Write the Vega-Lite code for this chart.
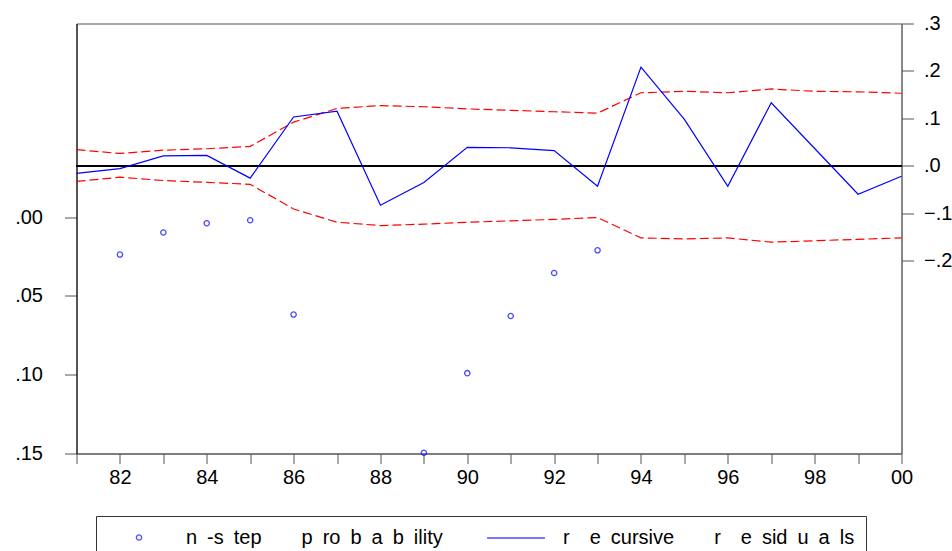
{
  "$schema": "https://vega.github.io/schema/vega-lite/v6.json",
  "width": 825,
  "height": 430,
  "autosize": {"type": "none"},
  "padding": {"left": 76.5, "top": 23.5, "right": 50.5, "bottom": 97.5},
  "background": "white",
  "config": {
    "view": {"stroke": "#555", "strokeWidth": 1},
    "axis": {"labelFont": "Liberation Sans", "labelFontSize": 20, "labelColor": "#000", "grid": false, "title": null, "tickColor": "#555", "domainColor": "#555"},
    "legend": {"labelFont": "Liberation Sans", "labelFontSize": 20, "labelColor": "#000"}
  },
  "data": {"values": [
    {"year": 1982, "series": "n\u2002-s\u2002tep\u2003\u2003p\u2002ro\u2002b\u2002a\u2002b\u2002ility", "v": 0.0237},
    {"year": 1983, "series": "n\u2002-s\u2002tep\u2003\u2003p\u2002ro\u2002b\u2002a\u2002b\u2002ility", "v": 0.0097},
    {"year": 1984, "series": "n\u2002-s\u2002tep\u2003\u2003p\u2002ro\u2002b\u2002a\u2002b\u2002ility", "v": 0.0038},
    {"year": 1985, "series": "n\u2002-s\u2002tep\u2003\u2003p\u2002ro\u2002b\u2002a\u2002b\u2002ility", "v": 0.0019},
    {"year": 1986, "series": "n\u2002-s\u2002tep\u2003\u2003p\u2002ro\u2002b\u2002a\u2002b\u2002ility", "v": 0.0618},
    {"year": 1989, "series": "n\u2002-s\u2002tep\u2003\u2003p\u2002ro\u2002b\u2002a\u2002b\u2002ility", "v": 0.1495},
    {"year": 1990, "series": "n\u2002-s\u2002tep\u2003\u2003p\u2002ro\u2002b\u2002a\u2002b\u2002ility", "v": 0.099},
    {"year": 1991, "series": "n\u2002-s\u2002tep\u2003\u2003p\u2002ro\u2002b\u2002a\u2002b\u2002ility", "v": 0.0627},
    {"year": 1992, "series": "n\u2002-s\u2002tep\u2003\u2003p\u2002ro\u2002b\u2002a\u2002b\u2002ility", "v": 0.0354},
    {"year": 1993, "series": "n\u2002-s\u2002tep\u2003\u2003p\u2002ro\u2002b\u2002a\u2002b\u2002ility", "v": 0.021},
    {"year": 1981, "series": "res", "v": -0.016},
    {"year": 1982, "series": "res", "v": -0.006},
    {"year": 1983, "series": "res", "v": 0.021},
    {"year": 1984, "series": "res", "v": 0.022},
    {"year": 1985, "series": "res", "v": -0.026},
    {"year": 1986, "series": "res", "v": 0.103},
    {"year": 1987, "series": "res", "v": 0.115},
    {"year": 1988, "series": "res", "v": -0.083},
    {"year": 1989, "series": "res", "v": -0.035},
    {"year": 1990, "series": "res", "v": 0.039},
    {"year": 1991, "series": "res", "v": 0.038},
    {"year": 1992, "series": "res", "v": 0.032},
    {"year": 1993, "series": "res", "v": -0.043},
    {"year": 1994, "series": "res", "v": 0.208},
    {"year": 1995, "series": "res", "v": 0.098},
    {"year": 1996, "series": "res", "v": -0.043},
    {"year": 1997, "series": "res", "v": 0.133},
    {"year": 1998, "series": "res", "v": 0.0365},
    {"year": 1999, "series": "res", "v": -0.06},
    {"year": 2000, "series": "res", "v": -0.022},
    {"year": 1981, "series": "up", "v": 0.034},
    {"year": 1982, "series": "up", "v": 0.026},
    {"year": 1983, "series": "up", "v": 0.033},
    {"year": 1984, "series": "up", "v": 0.036},
    {"year": 1985, "series": "up", "v": 0.041},
    {"year": 1986, "series": "up", "v": 0.092},
    {"year": 1987, "series": "up", "v": 0.121},
    {"year": 1988, "series": "up", "v": 0.127},
    {"year": 1989, "series": "up", "v": 0.1245},
    {"year": 1990, "series": "up", "v": 0.12},
    {"year": 1991, "series": "up", "v": 0.117},
    {"year": 1992, "series": "up", "v": 0.114},
    {"year": 1993, "series": "up", "v": 0.111},
    {"year": 1994, "series": "up", "v": 0.154},
    {"year": 1995, "series": "up", "v": 0.157},
    {"year": 1996, "series": "up", "v": 0.154},
    {"year": 1997, "series": "up", "v": 0.162},
    {"year": 1998, "series": "up", "v": 0.157},
    {"year": 1999, "series": "up", "v": 0.156},
    {"year": 2000, "series": "up", "v": 0.153},
    {"year": 1981, "series": "lo", "v": -0.033},
    {"year": 1982, "series": "lo", "v": -0.024},
    {"year": 1983, "series": "lo", "v": -0.031},
    {"year": 1984, "series": "lo", "v": -0.035},
    {"year": 1985, "series": "lo", "v": -0.039},
    {"year": 1986, "series": "lo", "v": -0.091},
    {"year": 1987, "series": "lo", "v": -0.119},
    {"year": 1988, "series": "lo", "v": -0.126},
    {"year": 1989, "series": "lo", "v": -0.123},
    {"year": 1990, "series": "lo", "v": -0.119},
    {"year": 1991, "series": "lo", "v": -0.116},
    {"year": 1992, "series": "lo", "v": -0.113},
    {"year": 1993, "series": "lo", "v": -0.109},
    {"year": 1994, "series": "lo", "v": -0.152},
    {"year": 1995, "series": "lo", "v": -0.154},
    {"year": 1996, "series": "lo", "v": -0.152},
    {"year": 1997, "series": "lo", "v": -0.161},
    {"year": 1998, "series": "lo", "v": -0.158},
    {"year": 1999, "series": "lo", "v": -0.155},
    {"year": 2000, "series": "lo", "v": -0.152}
  ]},
  "layer": [
    {
      "transform": [{"filter": "datum.series !== 'res' && datum.series !== 'up' && datum.series !== 'lo'"}],
      "mark": {"type": "point", "filled": false, "strokeWidth": 1.3, "color": "#0000ff", "clip": false},
      "encoding": {
        "x": {"field": "year", "type": "quantitative", "scale": {"domain": [1981, 2000], "nice": false, "zero": false},
          "axis": {"values": [1981,1982,1983,1984,1985,1986,1987,1988,1989,1990,1991,1992,1993,1994,1995,1996,1997,1998,1999,2000],
            "labelExpr": "datum.value % 2 == 0 ? slice(toString(datum.value), 2) : ''", "tickSize": 10, "labelPadding": 4, "labelFlush": false, "labelOverlap": false}},
        "y": {"field": "v", "type": "quantitative", "scale": {"domain": [-0.123, 0.15], "reverse": true, "nice": false, "zero": false},
          "axis": {"orient": "left", "values": [0, 0.05, 0.1, 0.15], "labelExpr": "replace(format(datum.value, '.2f'), '0.', '.')", "tickSize": 12, "labelPadding": 22, "domainColor": "#000"}},
        "shape": {"field": "series", "type": "nominal",
          "scale": {"domain": ["n\u2002-s\u2002tep\u2003\u2003p\u2002ro\u2002b\u2002a\u2002b\u2002ility", "r\u2003e\u2002cursive\u2003\u2003r\u2003e\u2002sid\u2002u\u2002a\u2002ls"], "range": ["circle", "M-2.9,0H2.9"]},
          "legend": {"title": null, "orient": "none", "legendX": 19.5, "legendY": 492.5, "direction": "horizontal", "columns": 2,
            "strokeColor": "#333", "padding": 11, "symbolOffset": 21, "labelOffset": 36, "columnPadding": 41, "labelLimit": 500,
            "symbolStrokeColor": "#0000ff", "symbolStrokeWidth": 1.3, "symbolFillColor": "transparent"}},
        "size": {"field": "series", "type": "nominal",
          "scale": {"type": "ordinal", "domain": ["n\u2002-s\u2002tep\u2003\u2003p\u2002ro\u2002b\u2002a\u2002b\u2002ility", "r\u2003e\u2002cursive\u2003\u2003r\u2003e\u2002sid\u2002u\u2002a\u2002ls"], "range": [28, 400]},
          "legend": {"title": null, "orient": "none", "legendX": 19.5, "legendY": 492.5, "direction": "horizontal", "columns": 2,
            "strokeColor": "#333", "padding": 11, "symbolOffset": 21, "labelOffset": 36, "columnPadding": 41, "labelLimit": 500,
            "symbolStrokeColor": "#0000ff", "symbolStrokeWidth": 1.3, "symbolFillColor": "transparent"}}
      }
    },
    {
      "layer": [
        {
          "mark": {"type": "rule", "color": "#000", "strokeWidth": 1.1},
          "encoding": {"y": {"datum": 0, "type": "quantitative"}}
        },
        {
          "transform": [{"filter": "datum.series === 'up'"}],
          "mark": {"type": "line", "color": "#ff0000", "strokeWidth": 1.2, "strokeDash": [9, 4]},
          "encoding": {"x": {"field": "year", "type": "quantitative"}, "y": {"field": "v", "type": "quantitative"}}
        },
        {
          "transform": [{"filter": "datum.series === 'lo'"}],
          "mark": {"type": "line", "color": "#ff0000", "strokeWidth": 1.2, "strokeDash": [9, 4]},
          "encoding": {"x": {"field": "year", "type": "quantitative"}, "y": {"field": "v", "type": "quantitative"}}
        },
        {
          "transform": [{"filter": "datum.series === 'res'"}],
          "mark": {"type": "line", "color": "#0000ff", "strokeWidth": 1.2},
          "encoding": {"x": {"field": "year", "type": "quantitative"}, "y": {"field": "v", "type": "quantitative"}}
        }
      ],
      "encoding": {
        "y": {"type": "quantitative", "scale": {"domain": [-0.6065, 0.3], "nice": false, "zero": false},
          "axis": {"orient": "right", "values": [-0.2, -0.1, 0, 0.1, 0.2, 0.3], "labelExpr": "replace(format(datum.value, '.1f'), '0.', '.')", "tickSize": 12, "labelPadding": 10, "domainColor": "#666"}}
      }
    }
  ],
  "resolve": {"scale": {"y": "independent"}, "axis": {"y": "independent"}}
}
